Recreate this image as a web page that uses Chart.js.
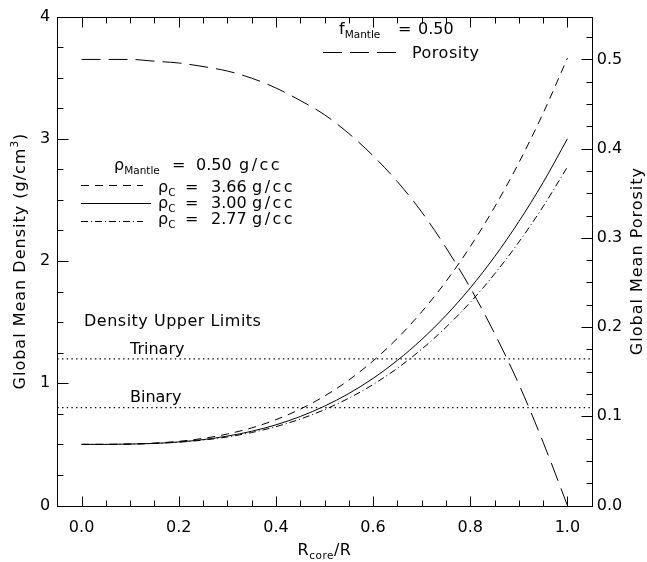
<!DOCTYPE html>
<html><head><meta charset="utf-8">
<script src="https://cdn.jsdelivr.net/npm/chart.js@4.4.0/dist/chart.umd.min.js"></script>
<style>html,body{margin:0;padding:0;background:#fff;}#wrap{width:647px;height:562px;}</style>
</head><body><div id="wrap"><canvas id="c" width="647" height="562"></canvas></div>
<script>
// ---- data ----
const rCore = [0.00,0.05,0.10,0.15,0.20,0.25,0.30,0.35,0.40,0.45,0.50,0.55,0.60,0.65,0.70,0.75,0.80,0.85,0.90,0.95,1.00];
const density366 = [0.500,0.500,0.503,0.511,0.525,0.549,0.585,0.635,0.702,0.788,0.895,1.026,1.183,1.368,1.584,1.833,2.118,2.441,2.804,3.209,3.660];
const density300 = [0.500,0.500,0.503,0.508,0.520,0.539,0.568,0.607,0.660,0.728,0.813,0.916,1.040,1.187,1.358,1.555,1.780,2.035,2.323,2.643,3.000];
const density277 = [0.500,0.500,0.502,0.508,0.518,0.535,0.561,0.597,0.645,0.707,0.784,0.878,0.990,1.123,1.279,1.458,1.662,1.894,2.155,2.446,2.770];
const porosity   = [0.500,0.500,0.500,0.498,0.496,0.492,0.487,0.479,0.468,0.454,0.438,0.417,0.392,0.363,0.329,0.289,0.244,0.193,0.136,0.071,0.000];
const limitNames = ['Trinary','Binary'];
const limitValues = [1.20, 0.80];
const xTicks = [0.0,0.2,0.4,0.6,0.8,1.0];
const yTicks = [0,1,2,3,4];
const y2Ticks = [0.0,0.1,0.2,0.3,0.4,0.5];
const xRange = [-0.05, 1.05];
const yRange = [0, 4];
const y2Range = [0, 0.548];

const FONT = '"DejaVu Sans"';
Chart.defaults.font.family = FONT;
Chart.defaults.font.size = 16;
Chart.defaults.color = '#000';

const pts = (xs, ys) => xs.map((x, i) => ({x, y: ys[i]}));
const lineDs = (data, dash, axis, w) => ({
  data, yAxisID: axis || 'y', borderColor: '#000', borderWidth: w || 1, borderDash: dash,
  pointRadius: 0, fill: false, cubicInterpolationMode: 'monotone'
});

const datasets = [
  lineDs(pts(rCore, density366), [8, 6]),
  lineDs(pts(rCore, density300), []),
  lineDs(pts(rCore, density277), [7, 3, 1, 3]),
  lineDs(pts(rCore, porosity), [19, 8], 'y2'),
  ...limitValues.map(v => lineDs([{x: xRange[0], y: v}, {x: xRange[1], y: v}], [1.4, 3.3], 'y', 1.3))
];

function drawRich(ctx, parts, x, y, align, spacing) {
  // parts: [text, kind] kind: 'n' normal, 'sub', 'sup'
  ctx.letterSpacing = (spacing || 0) + 'px';
  const size = p => (p[1] === 'n' ? 16 : 10.5);
  const meas = parts.map(p => {
    ctx.font = size(p) + 'px ' + FONT;
    return ctx.measureText(p[0]).width;
  });
  const total = meas.reduce((a, b) => a + b, 0);
  let cx = align === 'center' ? x - total / 2 : x;
  parts.forEach((p, i) => {
    ctx.font = size(p) + 'px ' + FONT;
    const dy = p[1] === 'sub' ? 4 : (p[1] === 'sup' ? -7 : 0);
    ctx.fillText(p[0], cx, y + dy);
    cx += meas[i];
  });
  ctx.letterSpacing = '0px';
}

const axisFrame = {
  id: 'axisFrame',
  afterDatasetsDraw(chart) {
    const {ctx, chartArea: a, scales} = chart;
    const L = Math.round(a.left) + 0.5, R = Math.round(a.right) + 0.5;
    const T = Math.round(a.top) + 0.5, B = Math.round(a.bottom) + 0.5;
    ctx.save();
    ctx.strokeStyle = '#000'; ctx.lineWidth = 1; ctx.setLineDash([]);
    ctx.strokeRect(L, T, R - L, B - T);
    ctx.beginPath();
    for (let i = 0; i <= 20; i++) {
      const px = Math.round(scales.x.getPixelForValue(i / 20)) + 0.5;
      const len = i % 4 === 0 ? 10 : 6;
      ctx.moveTo(px, B); ctx.lineTo(px, B - len);
      ctx.moveTo(px, T); ctx.lineTo(px, T + len);
    }
    for (let i = 0; i <= 16; i++) {
      const py = Math.round(scales.y.getPixelForValue(i / 4)) + 0.5;
      const len = i % 4 === 0 ? 11 : 6;
      ctx.moveTo(L, py); ctx.lineTo(L + len, py);
    }
    for (let i = 0; i <= 21; i++) {
      const py = Math.round(scales.y2.getPixelForValue(i * 0.025)) + 0.5;
      const len = i % 4 === 0 ? 11 : 6;
      ctx.moveTo(R, py); ctx.lineTo(R - len, py);
    }
    ctx.stroke();
    ctx.restore();
  }
};

const annotations = {
  id: 'annotations',
  afterDraw(chart) {
    const {ctx, chartArea: a} = chart;
    ctx.save();
    ctx.fillStyle = '#000'; ctx.strokeStyle = '#000'; ctx.lineWidth = 1;
    ctx.textBaseline = 'alphabetic'; ctx.textAlign = 'left';
    const midY = (a.top + a.bottom) / 2, midX = (a.left + a.right) / 2;

    // axis titles
    drawRich(ctx, [['R', 'n'], ['core', 'sub'], ['/R', 'n']], midX, 555, 'center', 0.5);
    ctx.save(); ctx.translate(25, midY); ctx.rotate(-Math.PI / 2);
    drawRich(ctx, [['Global Mean Density (g/cm', 'n'], ['3', 'sup'], [')', 'n']], 0, 0, 'center', 1);
    ctx.restore();
    ctx.save(); ctx.translate(642, midY); ctx.rotate(-Math.PI / 2);
    drawRich(ctx, [['Global Mean Porosity', 'n']], 0, 0, 'center', 1);
    ctx.restore();

    // top-right legend
    drawRich(ctx, [['f', 'n'], ['Mantle', 'sub']], 339, 34);
    drawRich(ctx, [['=', 'n']], 398, 34);
    drawRich(ctx, [['0.50', 'n']], 418, 34);
    ctx.beginPath(); ctx.setLineDash([19, 8]);
    ctx.moveTo(323, 52.5); ctx.lineTo(396, 52.5); ctx.stroke();
    drawRich(ctx, [['Porosity', 'n']], 412, 58, 'left', 0.5);

    // left legend
    drawRich(ctx, [['ρ', 'n'], ['Mantle', 'sub']], 114, 170);
    drawRich(ctx, [['=', 'n']], 172, 170);
    drawRich(ctx, [['0.50', 'n']], 196, 170);
    drawRich(ctx, [['g/cc', 'n']], 239, 170, 'left', 2.5);
    const rows = [['3.66', [8, 6], 185, 192], ['3.00', [], 203, 208], ['2.77', [7, 3, 1, 3], 221, 224]];
    rows.forEach(r => {
      ctx.beginPath(); ctx.setLineDash(r[1]);
      ctx.moveTo(81, r[2] + 0.5); ctx.lineTo(r[1].length ? 143 : 151, r[2] + 0.5); ctx.stroke();
      drawRich(ctx, [['ρ', 'n'], ['C', 'sub']], 158, r[3]);
      drawRich(ctx, [['=', 'n']], 185, r[3]);
      drawRich(ctx, [[r[0], 'n']], 211, r[3]);
      drawRich(ctx, [['g/cc', 'n']], 252, r[3], 'left', 2.5);
    });
    ctx.setLineDash([]);

    // density limits labels
    drawRich(ctx, [['Density Upper Limits', 'n']], 84, 326, 'left', 0.5);
    drawRich(ctx, [[limitNames[0], 'n']], 130, 354);
    drawRich(ctx, [[limitNames[1], 'n']], 130, 402);
    ctx.restore();
  }
};

new Chart(document.getElementById('c'), {
  type: 'line',
  data: {datasets},
  options: {
    responsive: false, animation: false, devicePixelRatio: 1,
    layout: {padding: {top: 8.5, left: 0, right: 0, bottom: 0}},
    plugins: {legend: {display: false}, tooltip: {enabled: false}},
    scales: {
      x: {
        type: 'linear', min: xRange[0], max: xRange[1],
        grid: {display: false, drawTicks: false}, border: {display: false},
        ticks: {padding: 13, maxRotation: 0, autoSkip: false, callback: v => Number(v).toFixed(1)},
        afterBuildTicks: s => { s.ticks = xTicks.map(v => ({value: v})); },
        afterFit: s => { s.height = 56.5; }
      },
      y: {
        type: 'linear', position: 'left', min: yRange[0], max: yRange[1],
        grid: {display: false, drawTicks: false}, border: {display: false},
        ticks: {padding: 7, autoSkip: false, callback: v => String(v)},
        afterBuildTicks: s => { s.ticks = yTicks.map(v => ({value: v})); },
        afterFit: s => { s.width = 57.3; }
      },
      y2: {
        type: 'linear', position: 'right', min: y2Range[0], max: y2Range[1],
        grid: {display: false, drawTicks: false}, border: {display: false},
        ticks: {padding: 5, autoSkip: false, callback: v => Number(v).toFixed(1)},
        afterBuildTicks: s => { s.ticks = y2Ticks.map(v => ({value: v})); },
        afterFit: s => { s.width = 55.3; }
      }
    }
  },
  plugins: [axisFrame, annotations]
});
</script></body></html>
